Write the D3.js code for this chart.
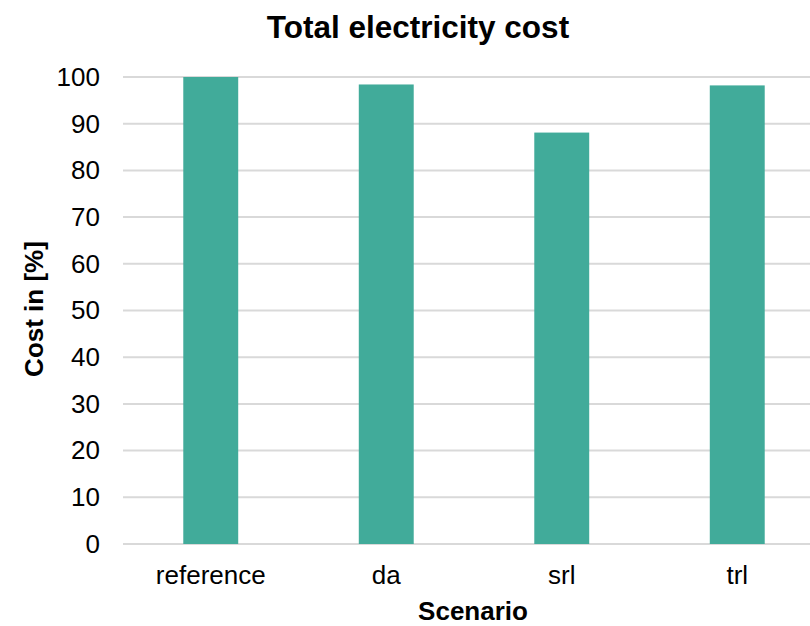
<!DOCTYPE html>
<html>
<head>
<meta charset="utf-8">
<script src="https://cdn.jsdelivr.net/npm/d3@7"></script>
<style>
  html, body { margin: 0; padding: 0; background: #fff; }
  svg { display: block; font-family: "Liberation Sans", Arial, sans-serif; }
</style>
</head>
<body>
<svg id="chart" width="810" height="626"></svg>
<script>
const categories = ["reference", "da", "srl", "trl"];
const costValues = [100, 98.4, 88.1, 98.2];
const yTicks = [0, 10, 20, 30, 40, 50, 60, 70, 80, 90, 100];
const titleText = "Total electricity cost";
const xAxisTitle = "Scenario";
const yAxisTitle = "Cost in [%]";

const svg = d3.select("#chart");
const x = d3.scaleBand().domain(categories).range([123, 825])
  .paddingInner(0.687).paddingOuter(0.3435);
const y = d3.scaleLinear().domain([0, 100]).range([544, 77]);

// gridlines
svg.append("g").selectAll("line").data(yTicks).join("line")
  .attr("x1", 123).attr("x2", 810)
  .attr("y1", d => y(d)).attr("y2", d => y(d))
  .attr("stroke", "#d9d9d9").attr("stroke-width", 2);

// bars
svg.append("g").selectAll("rect").data(categories).join("rect")
  .attr("x", d => x(d))
  .attr("width", x.bandwidth())
  .attr("y", (d, i) => y(costValues[i]))
  .attr("height", (d, i) => y(0) - y(costValues[i]))
  .attr("fill", "#41ab9a");

// y axis labels
const yAxis = d3.axisLeft(y).tickValues(yTicks).tickSize(0).tickPadding(0);
const gy = svg.append("g").attr("transform", "translate(100,0)").call(yAxis);
gy.select(".domain").remove();
gy.selectAll("text").attr("font-size", 26).attr("fill", "#000")
  .attr("font-family", "Liberation Sans, Arial, sans-serif");

// x axis labels
const xAxis = d3.axisBottom(x).tickSize(0).tickPadding(0);
const gx = svg.append("g").attr("transform", "translate(0,566)").call(xAxis);
gx.select(".domain").remove();
gx.selectAll("text").attr("font-size", 26).attr("fill", "#000")
  .attr("font-family", "Liberation Sans, Arial, sans-serif");

// title
svg.append("text").attr("x", 418).attr("y", 38)
  .attr("text-anchor", "middle").attr("font-size", 31.5).attr("font-weight", "bold")
  .text(titleText);

// x axis title
svg.append("text").attr("x", 473).attr("y", 620)
  .attr("text-anchor", "middle").attr("font-size", 26).attr("font-weight", "bold")
  .text(xAxisTitle);

// y axis title
svg.append("text").attr("transform", "translate(43,309) rotate(-90)")
  .attr("text-anchor", "middle").attr("font-size", 26).attr("font-weight", "bold")
  .text(yAxisTitle);
</script>
</body>
</html>
